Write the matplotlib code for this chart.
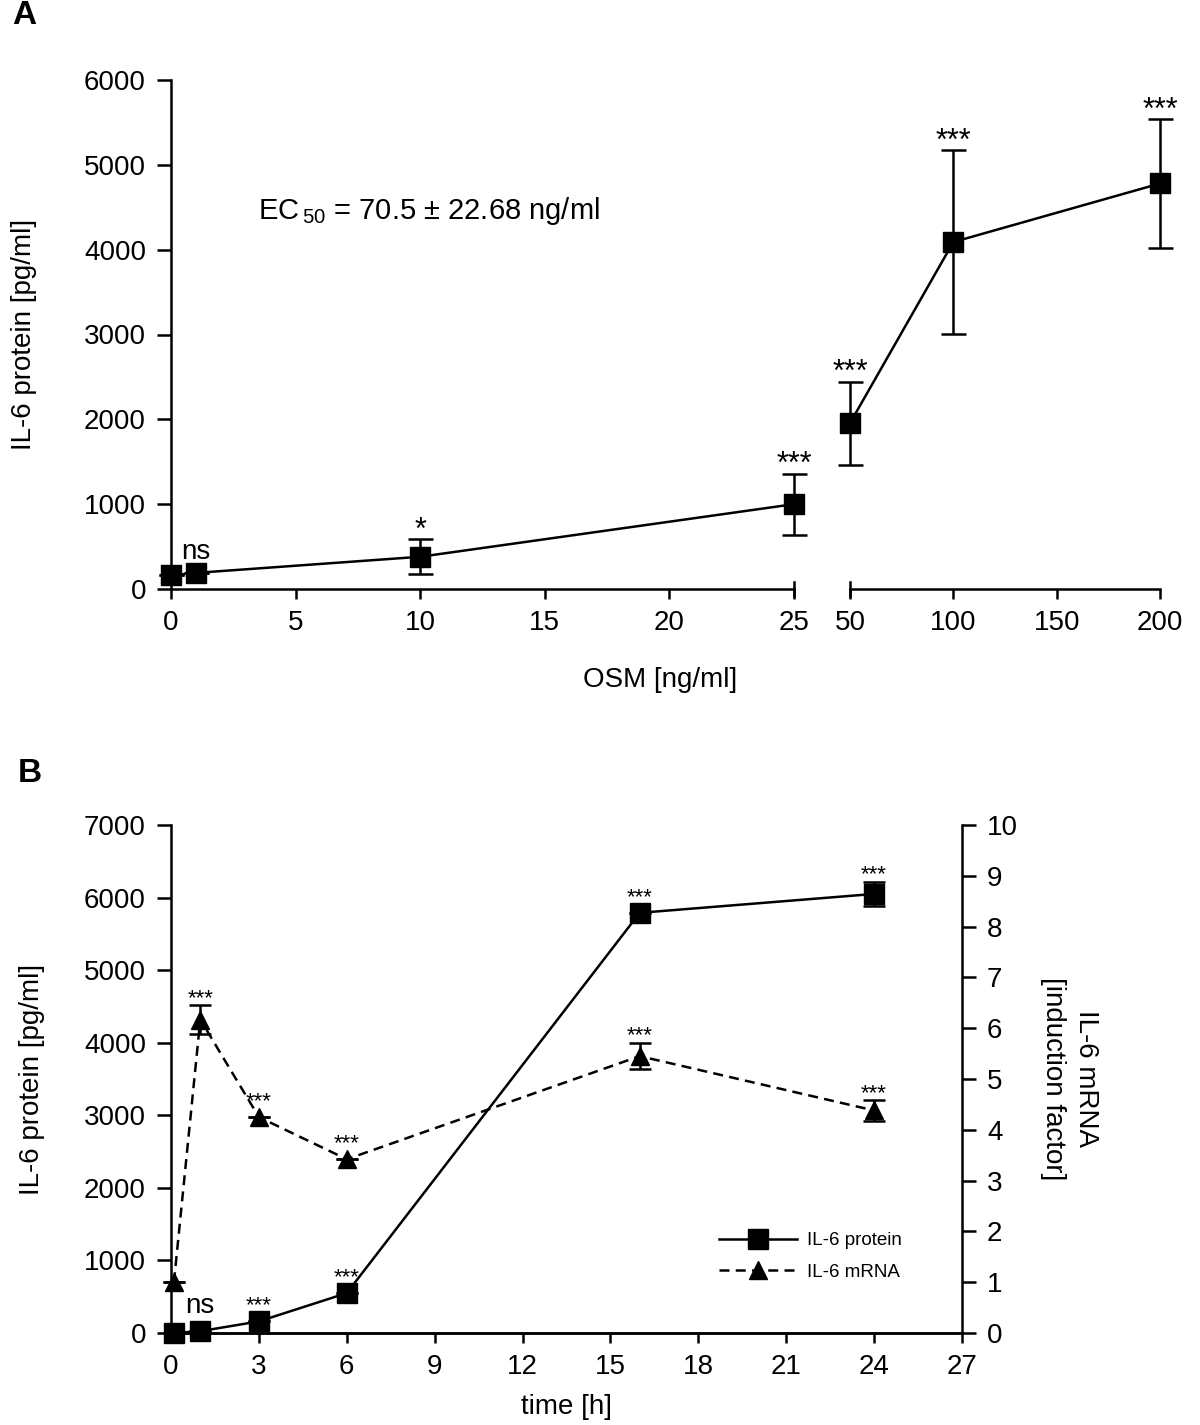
import numpy as np
import matplotlib.pyplot as plt

plt.rcParams['font.family'] = ['Liberation Sans', 'DejaVu Sans']
plt.rcParams['mathtext.fontset'] = 'custom'
plt.rcParams['mathtext.rm'] = 'Liberation Sans'
plt.rcParams['axes.linewidth'] = 1.8

# panel A: dose response (broken x axis)
osm_low = [0, 1, 10, 25]
il6_low = [160, 190, 380, 1000]
il6_low_err = [0, 0, 205, 360]
sig_low = ['', 'ns', '*', '***']
osm_high = [50, 100, 200]
il6_high = [1955, 4090, 4780]
il6_high_err = [490, 1080, 760]
sig_high = ['***', '***', '***']

# panel B: time course
time_h = [0.1, 1, 3, 6, 16, 24]
protein = [0, 25, 160, 550, 5790, 6050]
protein_err = [0, 0, 0, 0, 0, 170]
protein_sig = ['', 'ns', '***', '***', '***', '***']
mrna = [1.0, 6.17, 4.25, 3.42, 5.45, 4.38]
mrna_err = [0, 0.28, 0, 0, 0.26, 0.2]
mrna_sig = ['', '***', '***', '***', '***', '***']

W, H = 1200, 1425
fig = plt.figure(figsize=(W / 100, H / 100), dpi=100)


def px_axes(x0, x1, ytop, ybot):
    return fig.add_axes([x0 / W, 1 - ybot / H, (x1 - x0) / W, (ybot - ytop) / H])


def style(ax):
    ax.spines['top'].set_visible(False)
    ax.spines['right'].set_visible(False)
    ax.tick_params(labelsize=20, width=1.8, length=10, pad=8)


def stars(ax, xs, ys, errs, labels, size, off_err, off_plain):
    for x, y, e, lab in zip(xs, ys, errs, labels):
        if not lab:
            continue
        off = off_err if e else off_plain
        if lab == 'ns':
            ax.annotate(lab, (x, y), xytext=(0, off_plain), textcoords='offset points',
                        ha='center', va='bottom', fontsize=20)
        else:
            ax.annotate(lab, (x, y + e), xytext=(0, off - size * 0.35),
                        textcoords='offset points', ha='center', va='bottom',
                        fontsize=size)


# ---------- panel A ----------
axA1 = px_axes(171, 794, 80, 589)
axA2 = px_axes(850, 1160, 80, 589)
for ax in (axA1, axA2):
    style(ax)
    ax.set_ylim(0, 6000)

axA1.errorbar(osm_low, il6_low, yerr=il6_low_err, color='black', lw=1.8, marker='s',
              ms=14, capsize=9, capthick=1.8, elinewidth=1.8, clip_on=False, zorder=3)
axA2.errorbar(osm_high, il6_high, yerr=il6_high_err, color='black', lw=1.8, marker='s',
              ms=14, capsize=9, capthick=1.8, elinewidth=1.8, clip_on=False, zorder=3)
axA1.set_xlim(0, 25)
axA1.set_xticks([0, 5, 10, 15, 20, 25])
axA1.set_yticks(np.arange(0, 6001, 1000))
axA2.set_xlim(50, 200)
axA2.set_xticks([50, 100, 150, 200])
axA2.spines['left'].set_visible(False)
axA2.tick_params(axis='y', left=False, labelleft=False)
axA1.spines['left'].set_bounds(0, 6000)
axA1.tick_params(axis='x', length=7)
axA2.tick_params(axis='x', length=7)
# break marks at the cut ends
for ax, xe in ((axA1, 1), (axA2, 0)):
    ax.plot([xe, xe], [-0.014, 0.014], transform=ax.transAxes, color='black',
            lw=1.8, clip_on=False)

stars(axA1, osm_low, il6_low, il6_low_err, sig_low, 22, 3, 6)
stars(axA2, osm_high, il6_high, il6_high_err, sig_high, 22, 3, 6)

axA1.set_ylabel('IL-6 protein [pg/ml]', fontsize=20, labelpad=34)
fig.text(660 / W, 1 - 680 / H, 'OSM [ng/ml]', fontsize=20, ha='center', va='center')
axA1.text(3.5, 4450, 'EC$_{\\,50}$ = 70.5 $\\pm$ 22.68 ng/ml', fontsize=21, va='center')
fig.text(12 / W, 1 - 16 / H, 'A', fontsize=24, fontweight='bold', va='center')

# ---------- panel B ----------
axB = px_axes(171, 962, 825, 1333)
style(axB)
axB2 = axB.twinx()
axB2.spines['top'].set_visible(False)
axB2.spines['left'].set_visible(False)
axB2.tick_params(labelsize=20, width=1.8, length=10, pad=8)

l1 = axB.errorbar(time_h, protein, yerr=protein_err, color='black', lw=1.8, marker='s',
                  ms=14, capsize=8, capthick=1.8, elinewidth=1.8, clip_on=False,
                  zorder=3)
l2 = axB2.errorbar(time_h, mrna, yerr=mrna_err, color='black', lw=1.8, ls='--',
                   dashes=(4, 2.5), marker='^', ms=13, capsize=8, capthick=1.8,
                   elinewidth=1.8, clip_on=False, zorder=3)
axB.set_xlim(0, 27)
axB.set_xticks(np.arange(0, 28, 3))
axB.set_ylim(0, 7000)
axB.set_yticks(np.arange(0, 7001, 1000))
axB2.set_ylim(0, 10)
axB2.set_yticks(np.arange(0, 11, 1))
axB.tick_params(axis='x', length=7)

stars(axB, time_h, protein, protein_err, protein_sig, 16, 3, 9)
stars(axB2, time_h, mrna, mrna_err, mrna_sig, 16, 3, 9)

axB.set_ylabel('IL-6 protein [pg/ml]', fontsize=20, labelpad=28)
axB.set_xlabel('time [h]', fontsize=20, labelpad=10)
axB2.set_ylabel('IL-6 mRNA\n[induction factor]', fontsize=20, rotation=270,
                labelpad=58, linespacing=1.35)
axB.legend([l1[0], l2[0]], ['IL-6 protein', 'IL-6 mRNA'], loc='lower right',
           bbox_to_anchor=(0.945, 0.07), frameon=False, fontsize=13.5, handlelength=4.2,
           labelspacing=0.75, handletextpad=0.5)
fig.text(18 / W, 1 - 774 / H, 'B', fontsize=24, fontweight='bold', va='center')

fig.savefig('out.png', dpi=100)
